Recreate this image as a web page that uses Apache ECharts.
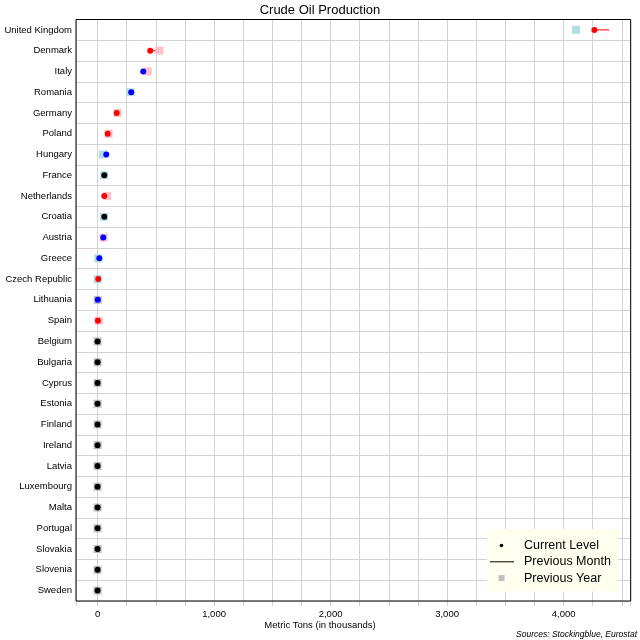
<!DOCTYPE html>
<html>
<head>
<meta charset="utf-8">
<script src="https://cdn.jsdelivr.net/npm/echarts@6/dist/echarts.min.js"></script>
<style>
  html, body { margin: 0; padding: 0; background: #fff; }
  #chart { width: 640px; height: 640px; }
</style>
</head>
<body>
<div id="chart"></div>
<script>
const countries = ['United Kingdom','Denmark','Italy','Romania','Germany','Poland','Hungary','France','Netherlands','Croatia','Austria','Greece','Czech Republic','Lithuania','Spain','Belgium','Bulgaria','Cyprus','Estonia','Finland','Ireland','Latvia','Luxembourg','Malta','Portugal','Slovakia','Slovenia','Sweden'];
const currentLevel  = [4264, 452, 392, 289, 164, 87, 75, 58, 58, 58, 49, 15, 6, 2, 3, 0, 0, 0, 0, 0, 0, 0, 0, 0, 0, 0, 0, 0];
const previousMonth = [4392, 505, 385, 283, 172, 92, 70, 58, 62, 58, 46, 12, 8, 1, 4, 0, 0, 0, 0, 0, 0, 0, 0, 0, 0, 0, 0, 0];
const previousYear  = [4107, 530, 430, 284, 173, 95, 46, 56, 83, 55, 52, 7, 2, 2, 9, 0, 0, 0, 0, 0, 0, 0, 0, 0, 0, 0, 0, 0];
const xTickLabels = ['0', '1,000', '2,000', '3,000', '4,000'];

const FONT = '"Liberation Sans", Arial, sans-serif';

function dotColor(i) {
  if (currentLevel[i] < previousMonth[i]) return '#ff0000';
  if (currentLevel[i] > previousMonth[i]) return '#0000ff';
  return '#000000';
}
function squareColor(i) {
  if (previousYear[i] > currentLevel[i]) return '#ffc0cb';
  if (previousYear[i] < currentLevel[i]) return '#b0e0e6';
  return '#bebebe';
}

const chart = echarts.init(document.getElementById('chart'), null, { renderer: 'canvas' });

const option = {
  animation: false,
  textStyle: { fontFamily: FONT, color: '#000' },
  title: [
    { text: 'Crude Oil Production', left: 'center', top: 4, padding: 0,
      textStyle: { fontSize: 13, fontWeight: 'normal', color: '#000', fontFamily: FONT } },
    { text: 'Metric Tons (in thousands)', left: 'center', top: 620.5, padding: 0,
      textStyle: { fontSize: 9.5, fontWeight: 'normal', color: '#000', fontFamily: FONT } },
    { text: 'Sources: Stockingblue, Eurostat', right: 3, top: 630, padding: 0,
      textStyle: { fontSize: 8.5, fontWeight: 'normal', fontStyle: 'italic', color: '#000', fontFamily: FONT } }
  ],
  grid: { left: 76, right: 9.3, top: 19.5, bottom: 39, show: true, borderColor: '#000', borderWidth: 1, z: 2 },
  legend: {
    orient: 'vertical', left: 487, top: 529,
    backgroundColor: '#fffff0',
    padding: [10, 7, 7, 3],
    itemWidth: 29, itemHeight: 8, itemGap: 3.3,
    selectedMode: false,
    textStyle: { fontSize: 12.5, color: '#000', fontFamily: FONT },
    data: [
      { name: 'Current Level', icon: 'path://M0,0L0,0M29,8L29,8M9.7,4A1.8,1.8,0,1,0,13.3,4A1.8,1.8,0,1,0,9.7,4Z',
        itemStyle: { color: '#000', borderWidth: 0 } },
      { name: 'Previous Month', icon: 'path://M0,0L0,0M29,8L29,8M0,3.5L24,3.5L24,4.5L0,4.5Z',
        itemStyle: { color: '#000', borderWidth: 0 } },
      { name: 'Previous Year', icon: 'path://M0,0L0,0M29,8L29,8M8.5,1L14.5,1L14.5,7L8.5,7Z',
        itemStyle: { color: '#bebebe', borderWidth: 0 } }
    ]
  },
  xAxis: {
    type: 'value',
    min: -185, max: 4576,
    minInterval: 250, maxInterval: 250,
    axisLine: { show: false },
    axisTick: { show: true, length: 5, lineStyle: { color: '#d3d3d3' } },
    splitLine: { show: true, lineStyle: { color: '#d3d3d3', width: 1 } },
    axisLabel: {
      margin: 8, fontSize: 9.5, color: '#000', fontFamily: FONT,
      formatter: function (v) {
        if (v >= 0 && v % 1000 === 0) return xTickLabels[v / 1000] || '';
        return '';
      }
    }
  },
  yAxis: {
    type: 'category',
    data: countries,
    inverse: true,
    axisLine: { show: false },
    axisTick: { show: false },
    splitLine: { show: true, lineStyle: { color: '#d3d3d3', width: 1 } },
    axisLabel: { interval: 0, margin: 4, fontSize: 9.5, color: '#000', fontFamily: FONT }
  },
  series: [
    {
      name: 'Previous Month',
      type: 'custom',
      z: 2,
      encode: { x: [0, 1], y: 2 },
      data: currentLevel.map((v, i) => [previousMonth[i], v, i]),
      renderItem: function (params, api) {
        const i = params.dataIndex;
        const p1 = api.coord([api.value(0), i]);
        const p2 = api.coord([api.value(1), i]);
        return {
          type: 'line',
          shape: { x1: p1[0], y1: p1[1], x2: p2[0], y2: p2[1] },
          style: { stroke: dotColor(i), lineWidth: 1 }
        };
      }
    },
    {
      name: 'Previous Year',
      type: 'scatter',
      z: 3,
      symbol: 'rect',
      symbolSize: 8,
      data: previousYear.map((v, i) => [v, i]),
      itemStyle: { color: function (p) { return squareColor(p.dataIndex); }, opacity: 1 },
      emphasis: { disabled: true }
    },
    {
      name: 'Current Level',
      type: 'scatter',
      z: 4,
      symbol: 'circle',
      symbolSize: 6,
      data: currentLevel.map((v, i) => [v, i]),
      itemStyle: { color: function (p) { return dotColor(p.dataIndex); }, opacity: 1 },
      emphasis: { disabled: true }
    }
  ]
};
chart.setOption(option);
</script>
</body>
</html>
